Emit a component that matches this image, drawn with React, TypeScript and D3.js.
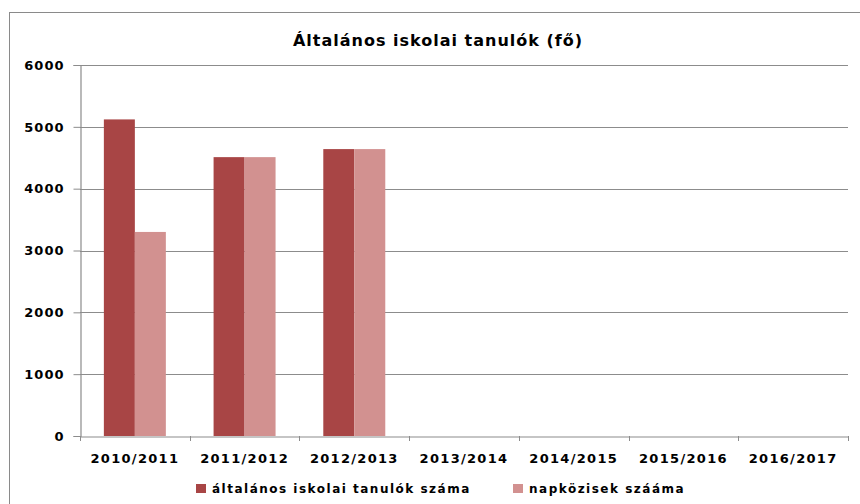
import React, { useEffect, useRef } from "react";
import * as d3 from "d3";

const categories = [
  "2010/2011",
  "2011/2012",
  "2012/2013",
  "2013/2014",
  "2014/2015",
  "2015/2016",
  "2016/2017",
];
const seriesNames = ["általános iskolai tanulók száma", "napközisek szááma"];
const tanulok = [5120, 4510, 4640, null, null, null, null];
const napkozisek = [3300, 4510, 4640, null, null, null, null];
const yTickValues = [0, 1000, 2000, 3000, 4000, 5000, 6000];
const colors = ["#a84545", "#d29190"];

const App = () => {
  const svgRef = useRef<SVGSVGElement>(null);

  useEffect(() => {
    const width = 860;
    const height = 504;
    const margin = { top: 65, right: 12, bottom: 68, left: 80 };
    const font = "'DejaVu Sans', Verdana, sans-serif";

    const svg = d3.select(svgRef.current);
    svg.selectAll("*").remove();
    svg.attr("width", width).attr("height", height);

    // outer chart border
    svg
      .append("rect")
      .attr("x", 9.5)
      .attr("y", 12.5)
      .attr("width", width + 20)
      .attr("height", height + 20)
      .attr("fill", "#fff")
      .attr("stroke", "#8a8a8a")
      .attr("stroke-width", 1);

    const innerWidth = width - margin.left - margin.right;
    const innerHeight = height - margin.top - margin.bottom;

    const x0 = d3.scaleBand().domain(categories).range([0, innerWidth]);
    const x1 = d3
      .scaleBand()
      .domain(seriesNames)
      .range([0, x0.bandwidth()])
      .paddingInner(0)
      .paddingOuter(0.77);

    const y = d3.scaleLinear().domain([0, 6000]).range([innerHeight, 0]);

    const g = svg
      .append("g")
      .attr("transform", `translate(${margin.left},${margin.top})`);

    // grid
    g.append("g")
      .selectAll("line")
      .data(yTickValues.filter((d) => d > 0))
      .join("line")
      .attr("x1", 0)
      .attr("x2", innerWidth)
      .attr("y1", (d) => Math.round(y(d)) + 0.5)
      .attr("y2", (d) => Math.round(y(d)) + 0.5)
      .attr("stroke", "#8c8c8c")
      .attr("stroke-width", 1.2);

    // bars
    const rows = categories.map((c, i) => ({
      cat: c,
      vals: [tanulok[i], napkozisek[i]],
    }));

    g.append("g")
      .selectAll("g")
      .data(rows)
      .join("g")
      .attr("transform", (d) => `translate(${x0(d.cat)},0)`)
      .selectAll("rect")
      .data((d) =>
        seriesNames
          .map((key, k) => ({ key, k, value: d.vals[k] }))
          .filter((v) => v.value != null)
      )
      .join("rect")
      .attr("x", (d) => x1(d.key)!)
      .attr("y", (d) => y(d.value as number))
      .attr("width", x1.bandwidth())
      .attr("height", (d) => innerHeight - y(d.value as number))
      .attr("fill", (d) => colors[d.k]);

    // y axis
    const yAxis = g
      .append("g")
      .attr("transform", "translate(0.5,0)")
      .call(
        d3
          .axisLeft(y)
          .tickValues(yTickValues)
          .tickSize(7)
          .tickPadding(9)
          .tickFormat(d3.format("d"))
      );
    yAxis.select(".domain").attr("stroke", "#8c8c8c").attr("stroke-width", 1.2);
    yAxis.selectAll(".tick line").attr("stroke", "#8c8c8c");
    yAxis
      .selectAll("text")
      .attr("fill", "#000")
      .style("font-family", font)
      .style("font-size", "13px")
      .style("font-weight", "bold")
      .style("letter-spacing", "1px");

    // x axis
    const xAxis = g
      .append("g")
      .attr("transform", `translate(0,${innerHeight + 0.5})`)
      .call(d3.axisBottom(x0).tickSize(0).tickPadding(17));
    xAxis.select(".domain").attr("stroke", "#8c8c8c").attr("stroke-width", 1.2);
    xAxis
      .selectAll("text")
      .attr("fill", "#000")
      .style("font-family", font)
      .style("font-size", "13px")
      .style("font-weight", "bold")
      .style("letter-spacing", "1.3px");

    // x tick marks at band boundaries
    g.append("g")
      .selectAll("line")
      .data(d3.range(categories.length + 1))
      .join("line")
      .attr("x1", (i) => Math.round(i * x0.step()) + 0.5)
      .attr("x2", (i) => Math.round(i * x0.step()) + 0.5)
      .attr("y1", innerHeight)
      .attr("y2", innerHeight + 5)
      .attr("stroke", "#8c8c8c");

    // title
    svg
      .append("text")
      .attr("x", 438)
      .attr("y", 46)
      .attr("text-anchor", "middle")
      .style("font-family", font)
      .style("font-size", "16px")
      .style("font-weight", "bold")
      .style("letter-spacing", "1px")
      .text("Általános iskolai tanulók (fő)");

    // legend
    const legendX = [196, 513];
    const legend = svg.append("g");
    seriesNames.forEach((name, i) => {
      const row = legend
        .append("g")
        .attr("transform", `translate(${legendX[i]},484)`);
      row
        .append("rect")
        .attr("width", 10)
        .attr("height", 9)
        .attr("fill", colors[i]);
      row
        .append("text")
        .attr("x", 16)
        .attr("y", 9)
        .style("font-family", font)
        .style("font-size", "12px")
        .style("font-weight", "bold")
        .style("letter-spacing", "1.5px")
        .text(name);
    });
  }, []);

  return (
    <div style={{ position: "absolute", left: 0, top: 0 }}>
      <svg ref={svgRef}></svg>
    </div>
  );
};

export default App;
